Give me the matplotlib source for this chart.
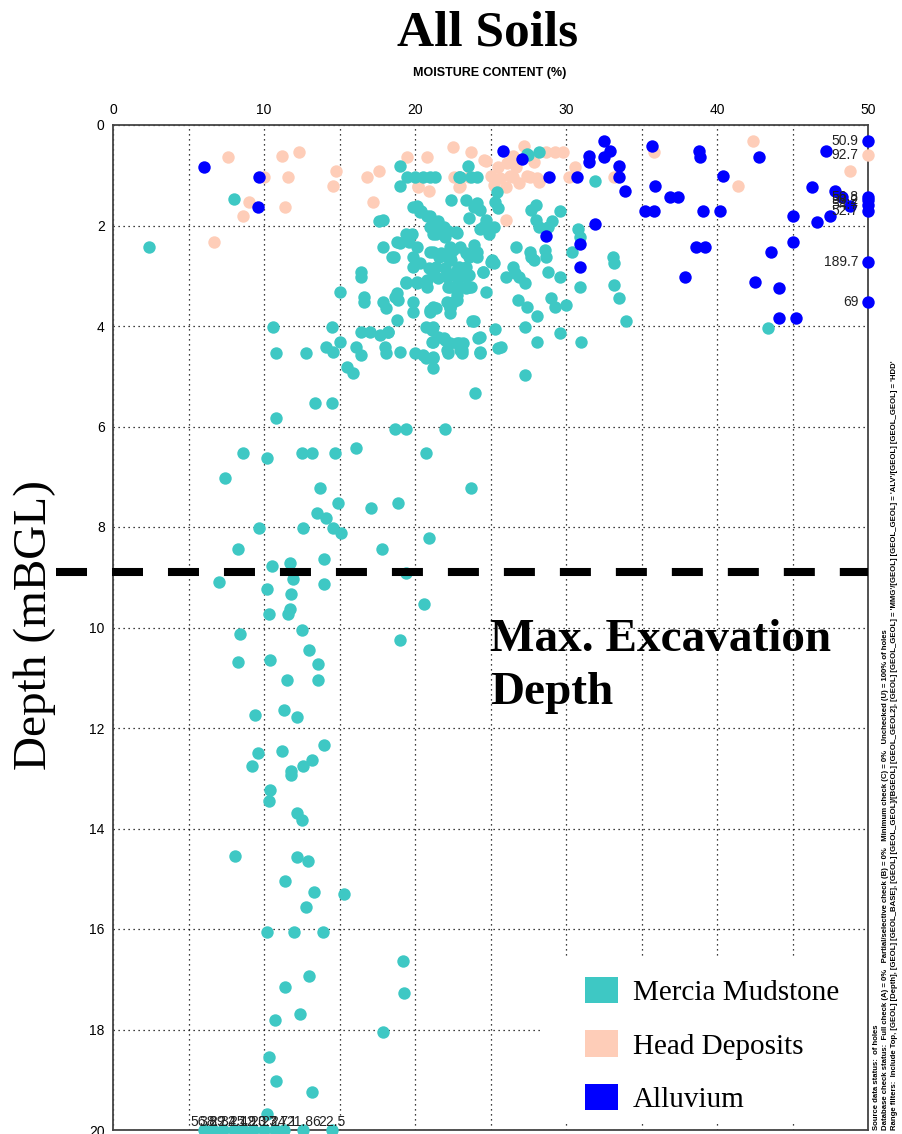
import matplotlib
matplotlib.use("Agg")
import matplotlib.pyplot as plt
from matplotlib.patches import Patch, Rectangle

SERIF = "Liberation Serif"
SANS = "Liberation Sans"

# moisture content (%) and depth (m)
mercia_x = [8.0, 2.4, 19.0, 19.0, 17.6, 17.9, 18.5, 16.4, 16.4, 23.5, 23.0, 24.1, 19.5, 20.0, 20.5, 21.0, 21.3,
            22.9, 23.7, 27.4, 28.2, 27.5, 31.9,
            19.9, 20.3, 20.8, 21.2, 21.7, 22.2, 22.8, 22.4, 23.4, 23.9, 24.5, 25.2, 21.2, 22.0, 19.4, 18.8, 19.9,
            20.3, 21.0, 21.7, 22.3, 23.0, 23.4, 24.1, 20.9, 21.4, 22.0, 22.8, 23.6, 24.5, 25.2, 22.3,
            25.4, 25.3, 25.5, 24.1, 23.6, 24.3, 20.1, 20.4, 21.0, 21.5, 21.9, 22.7, 21.0, 21.4, 24.7, 24.9, 24.3,
            17.9, 19.0, 19.8, 19.6, 20.1, 18.6, 19.9, 21.2, 21.6, 22.1, 22.5, 23.9, 24.1, 23.6, 22.4, 22.9, 23.4,
            21.2, 20.8, 21.5, 20.1, 19.4, 22.1, 22.8, 22.3, 22.8, 23.4, 22.8, 22.1, 22.3, 23.6, 17.9, 18.7, 19.9,
            19.9, 18.8, 21.0, 21.2, 21.1, 21.5, 21.1, 22.0, 22.8, 23.2, 23.0, 22.1, 21.2, 20.5, 23.9, 24.3, 24.3,
            19.0, 20.0, 18.2, 25.3, 25.1, 24.5, 24.7, 25.7, 26.5, 26.9, 27.3, 27.7, 26.6, 26.0, 26.7, 27.6, 27.9,
            28.2, 28.8, 29.1, 29.6, 28.0, 27.7, 28.0, 26.8, 27.4, 28.1, 29.0, 29.3, 30.0, 29.6, 28.6, 28.7, 28.8,
            30.4, 30.8, 30.9, 30.9, 29.6, 28.1, 27.3, 31.0, 27.3, 33.1, 33.2, 33.2, 33.5, 34.0, 43.4,
            15.0, 16.6, 16.6, 18.1, 18.8, 18.9, 19.4, 20.1, 20.8, 22.1, 23.4, 25.0, 21.0, 21.4, 22.3, 22.5, 22.8,
            23.0, 22.2, 23.7, 22.3,
            10.6, 14.5, 20.7, 21.2, 23.8, 16.4, 17.0, 17.7, 18.2, 15.0, 14.1, 14.6, 10.8, 12.8, 16.1, 16.4, 18.0,
            18.1, 20.7, 21.2, 21.2, 21.2, 21.9, 22.3, 22.9, 23.1, 22.2, 23.1, 24.2, 24.3, 25.5, 15.5, 15.9, 24.0,
            13.4, 14.5, 10.8, 18.7, 19.4, 22.0, 8.6, 12.5, 13.2, 14.7, 10.2, 16.1, 20.7, 7.4, 13.7, 23.7, 14.9,
            18.9, 13.5, 14.1, 17.1, 9.7, 12.6, 14.6, 15.1, 20.9, 8.3, 17.8,
            10.5, 11.7, 14.0, 7.0, 11.9, 14.0, 10.2, 11.8, 11.7, 11.6, 10.3, 12.5, 8.4, 13.0, 13.6, 8.3, 10.4,
            11.5, 13.6, 9.4, 11.3, 12.2, 14.0, 9.6, 9.2, 11.2, 12.6, 13.2, 11.8, 11.8, 10.4, 10.3, 12.2, 12.5,
            8.1, 12.2, 12.9, 11.4, 13.3, 15.3, 12.8, 10.2, 12.0, 13.9, 19.2, 19.3, 13.0, 11.4, 12.4, 10.7, 17.9,
            10.3, 10.8, 13.2, 10.2, 19.4, 20.6, 19.0]
mercia_y = [1.48, 2.42, 0.82, 1.21, 1.92, 2.42, 2.62, 2.92, 3.02, 0.82, 1.03, 1.03, 1.03, 1.03, 1.03, 1.03, 1.03,
            1.03, 1.03, 0.58, 0.53, 0.60, 1.11,
            1.63, 1.73, 1.82, 1.92, 2.02, 2.10, 2.14, 1.49, 1.49, 1.63, 2.02, 2.02, 2.16, 2.22, 2.16, 2.32, 2.62,
            2.75, 2.52, 2.55, 2.42, 2.42, 2.55, 2.62, 2.85, 2.82, 2.85, 2.89, 2.98, 2.92, 2.75, 2.62,
            1.33, 1.53, 1.66, 1.56, 1.86, 1.69, 1.61, 1.72, 1.82, 1.92, 2.02, 2.12, 2.02, 2.16, 1.89, 2.16, 2.06,
            1.89, 2.34, 2.16, 2.32, 2.42, 2.62, 2.82, 2.52, 2.62, 2.62, 2.49, 2.39, 2.52, 2.62, 2.69, 2.82, 2.82,
            2.95, 3.08, 3.05, 3.14, 3.14, 3.02, 3.05, 3.22, 3.28, 3.25, 3.48, 3.52, 3.65, 3.22, 3.52, 3.42, 3.52,
            3.72, 3.88, 3.72, 3.62, 4.08, 4.21, 4.31, 4.28, 4.34, 4.34, 4.48, 4.48, 4.64, 4.58, 3.91, 4.21, 4.51,
            4.51, 4.54, 4.11, 4.05, 2.69, 2.92, 3.32, 4.41, 2.82, 3.02, 3.15, 2.62, 2.95, 3.02, 2.42, 2.52, 2.69,
            2.02, 2.02, 1.92, 1.72, 1.89, 1.69, 1.59, 3.48, 3.62, 3.81, 3.45, 3.62, 3.58, 3.02, 2.49, 2.62, 2.92,
            2.52, 2.06, 2.22, 3.22, 4.14, 4.31, 4.01, 4.31, 4.97, 2.62, 2.75, 3.19, 3.45, 3.91, 4.03,
            3.32, 3.42, 3.52, 3.65, 3.35, 3.48, 3.12, 3.12, 3.22, 2.95, 3.02, 2.72, 3.68, 3.65, 3.62, 3.52, 3.38,
            3.22, 3.22, 3.22, 3.75,
            4.01, 4.01, 4.01, 4.01, 3.91, 4.11, 4.11, 4.18, 4.11, 4.31, 4.42, 4.51, 4.53, 4.53, 4.42, 4.57, 4.41,
            4.53, 4.64, 4.61, 4.84, 4.31, 4.24, 4.34, 4.34, 4.48, 4.54, 4.54, 4.23, 4.53, 4.44, 4.81, 4.93, 5.33,
            5.54, 5.54, 5.84, 6.04, 6.04, 6.04, 6.53, 6.53, 6.53, 6.53, 6.63, 6.43, 6.53, 7.03, 7.23, 7.23, 7.53,
            7.53, 7.72, 7.82, 7.63, 8.02, 8.02, 8.02, 8.12, 8.22, 8.44, 8.44,
            8.78, 8.72, 8.63, 9.10, 9.04, 9.14, 9.24, 9.33, 9.64, 9.74, 9.74, 10.04, 10.13, 10.45, 10.73, 10.69,
            10.64, 11.05, 11.05, 11.74, 11.64, 11.79, 12.34, 12.49, 12.75, 12.45, 12.75, 12.64, 12.86, 12.94,
            13.24, 13.46, 13.69, 13.84, 14.55, 14.56, 14.64, 15.05, 15.26, 15.30, 15.56, 16.05, 16.05, 16.05,
            16.64, 17.28, 16.94, 17.15, 17.69, 17.82, 18.05, 18.55, 19.03, 19.25, 19.68, 8.92, 9.53, 10.24]

head_x = [7.6, 11.2, 12.3, 14.8, 14.6, 11.6, 10.0, 9.0, 8.6, 11.4, 6.7, 16.8, 17.6, 17.2, 19.5, 20.8, 20.2,
          20.9, 22.5, 23.7, 24.7, 23.0, 22.6, 23.6, 27.2, 28.7, 29.3, 29.8, 27.9, 26.5, 26.1, 25.5, 25.0, 25.6,
          26.5, 27.4, 28.1, 26.0, 25.2, 26.9, 30.6, 33.2, 26.0, 22.9, 22.9, 20.2, 26.3, 26.7, 27.6, 28.2, 30.2,
          35.8, 41.4, 42.4, 48.8, 24.6]
head_y = [0.63, 0.62, 0.53, 0.91, 1.21, 1.03, 1.03, 1.53, 1.82, 1.63, 2.32, 1.03, 0.91, 1.53, 0.63, 0.63, 1.21,
          1.31, 0.43, 0.53, 0.71, 1.21, 1.03, 1.03, 0.42, 0.53, 0.53, 0.53, 0.73, 0.62, 0.76, 0.83, 1.01, 1.06,
          1.03, 1.01, 1.06, 1.23, 1.19, 1.16, 0.83, 1.03, 1.89, 1.03, 1.23, 1.23, 1.01, 0.83, 1.03, 1.13, 1.03,
          0.53, 1.21, 0.31, 0.91, 0.70]

alluvium_x = [25.8, 27.1, 28.9, 30.7, 31.5, 31.5, 32.5, 32.9, 32.5, 33.5, 33.5, 33.9, 35.7, 35.9, 36.9, 37.4,
              35.2, 35.8, 38.8, 38.9, 39.1, 40.2, 40.4, 42.8, 38.6, 39.2, 37.9, 42.5, 43.6, 44.1, 44.1, 45.2,
              45.0, 45.0, 46.3, 46.6, 47.5, 47.2, 47.8, 48.8, 48.3, 28.7, 30.9, 30.9, 31.9, 6.0, 9.7, 9.6]
alluvium_y = [0.51, 0.68, 1.03, 1.03, 0.62, 0.73, 0.31, 0.51, 0.63, 0.82, 1.03, 1.31, 0.42, 1.21, 1.43, 1.43,
              1.72, 1.72, 0.51, 0.63, 1.72, 1.72, 1.01, 0.63, 2.42, 2.42, 3.03, 3.12, 2.53, 3.24, 3.85, 3.85,
              2.32, 1.82, 1.23, 1.94, 1.82, 0.51, 1.31, 1.61, 1.43, 2.21, 2.36, 2.82, 1.97, 0.83, 1.03, 1.63]

# values beyond 50 % drawn on the right edge
edge_y = [0.31, 0.60, 1.43, 1.50, 1.60, 1.72, 2.73, 3.52]
edge_unit = ["Alluvium", "Head Deposits", "Alluvium", "Alluvium", "Alluvium", "Alluvium", "Alluvium", "Alluvium"]
edge_lbl = ["50.9", "92.7", "56.8", "58.2", "54.7", "52.7", "189.7", "69"]

# depths beyond 20 m drawn on the bottom edge
bottom_x = [6.0, 6.6, 7.3, 8.0, 8.6, 9.3, 10.0, 10.7, 11.3, 12.6, 14.5]
bottom_lbl = ["56.8", "38.2", "29.4", "32.1", "25.9", "42.0", "23.3", "27.7", "24.1", "21.86", "22.5"]

MAX_EXCAVATION = 8.9

colors = {"Mercia Mudstone": "#3EC8C4", "Head Deposits": "#FECDB8", "Alluvium": "#0000FF"}

fig = plt.figure(figsize=(9.02, 11.34), dpi=100)
ax = fig.add_axes([113 / 902, 1 - 1130 / 1134, 755 / 902, 1005 / 1134])

ax.set_xlim(0, 50)
ax.set_ylim(20, 0)
ax.xaxis.tick_top()
ax.set_xticks(range(0, 51, 10))
ax.set_xticks(range(5, 50, 10), minor=True)
ax.set_yticks(range(0, 21, 2))
ax.tick_params(which="both", length=0, labelsize=10, pad=6)
for lab in ax.get_xticklabels() + ax.get_yticklabels():
    lab.set_fontfamily(SANS)
ax.set_axisbelow(True)
ax.grid(True, which="both", color="black", linestyle=(0, (1, 3)), linewidth=0.9)
for sp in ax.spines.values():
    sp.set_color("#444444")
    sp.set_linewidth(1.3)

# white patch behind the legend hides the grid
ax.add_patch(Rectangle((28.3, 16.6), 21.6, 3.28, facecolor="white", edgecolor="none", zorder=1))

ms = 80
ax.scatter(head_x, head_y, s=ms, color=colors["Head Deposits"], linewidths=0, zorder=3, clip_on=False)
ax.scatter(mercia_x, mercia_y, s=ms, color=colors["Mercia Mudstone"], linewidths=0, zorder=3, clip_on=False)
ax.scatter(alluvium_x, alluvium_y, s=ms, color=colors["Alluvium"], linewidths=0, zorder=4, clip_on=False)

for y, unit, lbl in zip(edge_y, edge_unit, edge_lbl):
    ax.scatter([50], [y], s=ms, color=colors[unit], linewidths=0, zorder=4, clip_on=False)
    ax.annotate(lbl, (50, y), xytext=(-7, 0), textcoords="offset points", ha="right", va="center",
                fontsize=10, family=SANS, color="#222222", zorder=5)

ax.scatter(bottom_x, [20] * len(bottom_x), s=ms, color=colors["Mercia Mudstone"], linewidths=0,
           zorder=3, clip_on=False)
for x, lbl in zip(bottom_x, bottom_lbl):
    ax.annotate(lbl, (x, 20), xytext=(0, 1), textcoords="offset points", ha="center", va="bottom",
                fontsize=10, family=SANS, color="#222222", zorder=5)

# max excavation depth line (dash 31 px, gap 25 px)
ax.plot([-0.0755, 1.0], [MAX_EXCAVATION, MAX_EXCAVATION], transform=ax.get_yaxis_transform(),
        color="black", linewidth=5.8, linestyle=(0, (3.85, 3.1)), clip_on=False, zorder=6,
        solid_capstyle="butt", dash_capstyle="butt")
ax.text(25.0, 9.84, "Max. Excavation\nDepth", ha="left", va="top", fontsize=34, fontweight="bold",
        family=SERIF, linespacing=1.32, zorder=6)

handles = [Patch(facecolor=colors[k], edgecolor="none") for k in colors]
leg = ax.legend(handles, list(colors), loc="upper left", bbox_to_anchor=(0.625, 0.152), frameon=False,
                prop={"family": SERIF, "size": 21}, handlelength=1.15, handleheight=1.0,
                handletextpad=0.5, labelspacing=0.83, borderpad=0, borderaxespad=0)
leg.set_zorder(7)

fig.text(0.54, 1 - 45 / 1134, "All Soils", ha="center", va="baseline", fontsize=37, fontweight="bold",
         family=SERIF)
fig.text(0.543, 1 - 76 / 1134, "MOISTURE CONTENT (%)", ha="center", va="baseline", fontsize=9,
         fontweight="bold", family=SANS)
fig.text(0.039, 1 - 625 / 1134, "Depth (mBGL)", rotation=90, ha="center", va="center", fontsize=34,
         family=SERIF)

# filter notes along the right edge
notes = [
    "Source data status:  of holes",
    "Database check status:  Full check (A) = 0%   Partial/selective check (B) = 0%   Minimum check (C) = 0%   "
    "Unchecked (U) = 100% of holes",
    "Range filters:  Include Top, [GEOL] [Depth], [GEOL] [GEOL_BASE], [GEOL] [GEOL_GEOL]/[BGEOL] [GEOL_GEOL2], "
    "[GEOL] [GEOL_GEOL] = 'MMG'/[GEOL] [GEOL_GEOL] = 'ALV'/[GEOL] [GEOL_GEOL] = 'HDD'",
]
for i, note in enumerate(notes):
    fig.text((877 + 8.5 * i) / 902, 4 / 1134, note, rotation=90, ha="center", va="bottom", fontsize=5.6,
             fontweight="bold", family=SANS)

fig.savefig("out.png", dpi=100)
